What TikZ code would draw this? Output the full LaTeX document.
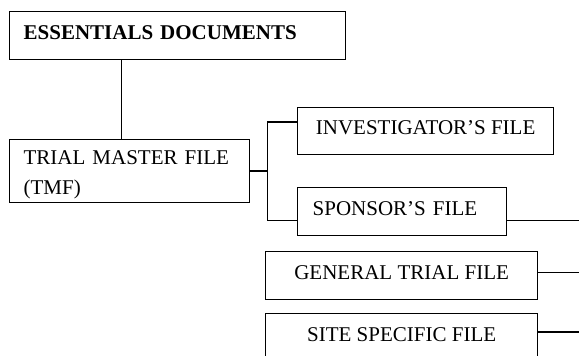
\documentclass[tikz,border=0pt]{standalone}
\usepackage{fontspec}
\setmainfont{Liberation Serif}
\begin{document}
\begin{tikzpicture}[x=0.5pt, y=-0.5pt, line width=0.65pt,
	every node/.style={font=\fontsize{10.5}{15}\selectfont},
	box/.style={draw, rectangle, inner ysep=0pt, anchor=north west},
	oneline/.style={text height=7.5pt, text depth=4pt}]
	\clip (0,0) rectangle (579,356);
	\node[box, oneline, font=\fontsize{10.5}{15}\selectfont\bfseries, text width=154pt, inner xsep=7pt, minimum height=24pt, align=left] (ess) at (9,11) {ESSENTIALS DOCUMENTS};
	\node[box, text width=106pt, inner xsep=7pt, minimum height=31.5pt, align=left] (tmf) at (9,139) {\rule{0pt}{11pt}TRIAL MASTER FILE\\(TMF)};
	\node[box, oneline, minimum width=128pt, minimum height=23.5pt] (inv) at (297,107) {INVESTIGATOR’S FILE};
	\node[box, oneline, text width=89.5pt, inner xsep=7.5pt, minimum height=24pt, align=left] (spo) at (297,187) {SPONSOR’S FILE};
	\node[box, oneline, minimum width=136pt, minimum height=24pt] (gen) at (265,251) {GENERAL TRIAL FILE};
	\node[box, oneline, minimum width=136pt, minimum height=24pt] (site) at (265,313) {SITE SPECIFIC FILE};
	\coordinate (edge) at (579,0);
	\draw ([xshift=-4pt]tmf.north) -- ([xshift=-4pt]tmf.north |- ess.south);
	\draw (tmf.east) -- ++(17,0) coordinate (fork);
	\draw ([yshift=-7.5pt]inv.north west) -| (fork) |- ([yshift=8pt]spo.south west);
	\draw ([yshift=8pt]spo.south east) -- ([yshift=8pt]spo.south east -| edge);
	\draw ([yshift=1.5pt]gen.east) -- ([yshift=1.5pt]gen.east -| edge);
	\draw ([yshift=-9.5pt]site.north east) -- ([yshift=-9.5pt]site.north east -| edge);
\end{tikzpicture}
\end{document}
